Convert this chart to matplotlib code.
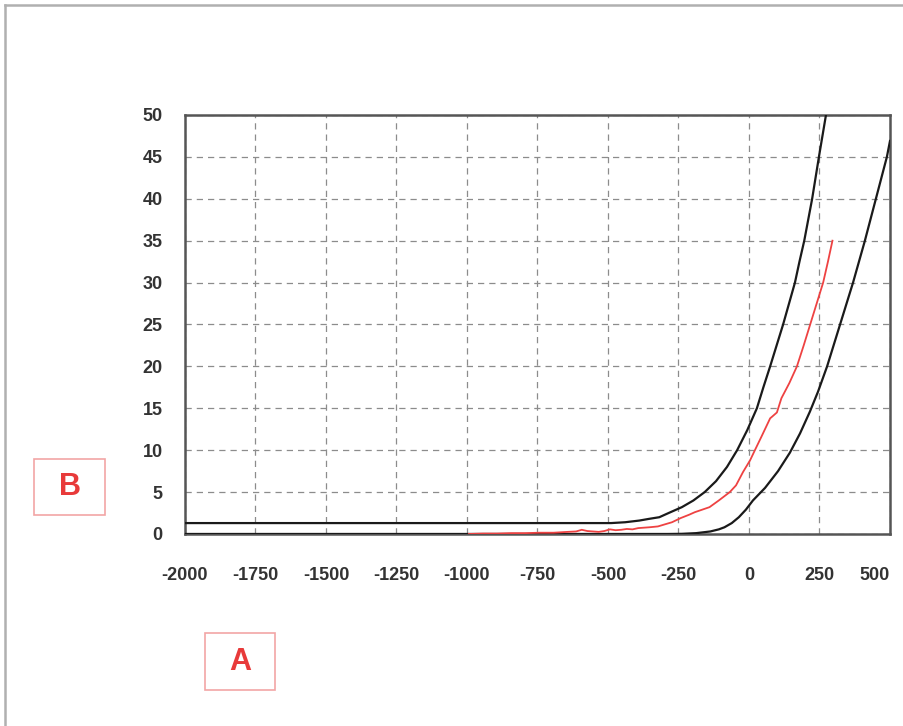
import matplotlib
matplotlib.use("Agg")
import matplotlib.pyplot as plt
from matplotlib.patches import Rectangle
from matplotlib.lines import Line2D

# ---- data ----
upper_x = [-2000, -489, -439, -389, -355, -318, -285, -238, -197, -157, -117, -78, -42, -6,
           28, 51, 75, 98, 121, 142, 163, 179, 196, 224, 248, 273]
upper_y = [1.3, 1.3, 1.4, 1.6, 1.8, 2.0, 2.5, 3.2, 4.0, 5.0, 6.3, 8.0, 10, 12.4,
           15, 17.5, 20, 22.5, 25, 27.5, 30, 32.5, 35, 40, 45, 50]

lower_x = [-2000, -288, -238, -187, -137, -107, -87, -61, -36, -11, 14, 57, 103, 145,
           181, 216, 245, 277, 323, 369, 411, 450, 489, 500]
lower_y = [0, 0.0, 0.02, 0.1, 0.3, 0.55, 0.8, 1.3, 2.0, 2.9, 4.0, 5.5, 7.5, 9.7,
           12, 14.6, 17, 20, 25, 30, 35, 40, 45, 46.9]

red_x = [-993, -943, -893, -843, -793, -743, -693, -643, -613, -593, -573, -553, -533, -513,
         -493, -473, -453, -433, -413, -393, -373, -353, -323, -293, -273, -242, -212, -192,
         -140, -107, -68, -46, -21, 4, 21, 44, 75, 82, 99, 115, 143, 170, 194, 217, 240,
         263, 280, 296]
red_y = [0, 0.05, 0.05, 0.1, 0.1, 0.15, 0.15, 0.25, 0.3, 0.5, 0.35, 0.3, 0.25, 0.35,
         0.55, 0.45, 0.5, 0.6, 0.55, 0.7, 0.75, 0.8, 0.9, 1.2, 1.4, 1.9, 2.3, 2.6,
         3.2, 4.0, 5.0, 5.8, 7.4, 8.8, 10, 11.6, 13.8, 14.0, 14.5, 16.2, 18, 20, 22.5, 25, 27.5,
         30, 32.5, 35]

xticks = [-2000, -1750, -1500, -1250, -1000, -750, -500, -250, 0, 250, 500]
yticks = [0, 5, 10, 15, 20, 25, 30, 35, 40, 45, 50]

plt.rcParams['font.family'] = ['Liberation Sans', 'DejaVu Sans']

fig = plt.figure(figsize=(9.04, 7.26), dpi=100)
ax = fig.add_axes([0.2046, 0.2645, 0.7799, 0.5771])

ax.plot(upper_x, upper_y, color='#1a1a1a', lw=1.6, zorder=3)
ax.plot(lower_x, lower_y, color='#1a1a1a', lw=1.6, zorder=3)
ax.plot(red_x, red_y, color='#ee4242', lw=1.3, zorder=4)

ax.set_xlim(-2000, 500)
ax.set_ylim(0, 50)
ax.set_xticks(xticks)
ax.set_yticks(yticks)
ax.set_xticklabels([str(v) for v in xticks])
ax.set_yticklabels([str(v) for v in yticks])
ax.tick_params(axis='both', length=0, labelsize=13, labelcolor='#333333')
ax.tick_params(axis='x', pad=24)
ax.tick_params(axis='y', pad=16)
for lab in ax.get_xticklabels() + ax.get_yticklabels():
    lab.set_fontweight('bold')
# last x label sits a bit inside the frame, as in the original
ax.get_xticklabels()[-1].set_horizontalalignment('right')

ax.grid(True, linestyle=(0, (5, 4)), color='#8c8c8c', lw=0.9)
ax.set_axisbelow(True)
for s in ax.spines.values():
    s.set_color('#555555')
    s.set_linewidth(1.8)

# boxed labels
red = '#e83a3a'
box_edge = '#f2a5a5'
fig.add_artist(Rectangle((0.0376, 0.2906), 0.0785, 0.0771, transform=fig.transFigure,
                         fill=False, edgecolor=box_edge, lw=1.2))
fig.text(0.0769, 0.3292, 'B', color=red, fontsize=22, fontweight='bold', ha='center', va='center')
fig.add_artist(Rectangle((0.2268, 0.0496), 0.0774, 0.0785, transform=fig.transFigure,
                         fill=False, edgecolor=box_edge, lw=1.2))
fig.text(0.2655, 0.0888, 'A', color=red, fontsize=22, fontweight='bold', ha='center', va='center')

# outer frame (top and left)
fig.add_artist(Line2D([0.005, 1.0], [0.993, 0.993], transform=fig.transFigure, color='#b0b0b0', lw=1.8))
fig.add_artist(Line2D([0.006, 0.006], [0.0, 0.993], transform=fig.transFigure, color='#b0b0b0', lw=1.8))

fig.savefig('out.png', dpi=100)
